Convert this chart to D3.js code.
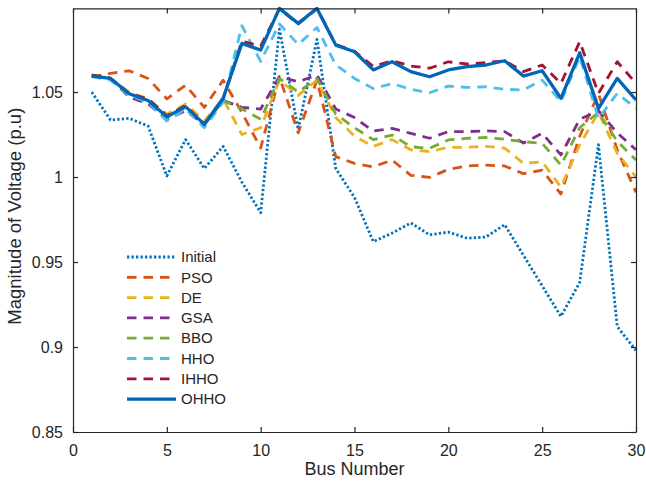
<!DOCTYPE html>
<html>
<head>
<meta charset="utf-8">
<script src="https://cdn.jsdelivr.net/npm/d3@7"></script>
<style>
  html, body { margin: 0; padding: 0; background: #fff; }
  svg { display: block; font-family: "Liberation Sans", Arial, sans-serif; }
</style>
</head>
<body>
<svg id="chart" width="646" height="485"></svg>
<script>
// Bus voltage magnitudes (p.u) for the 30-bus system
const buses = d3.range(1, 31);

const initialV = [1.050, 1.0335, 1.0345, 1.030, 1.0006, 1.022, 1.005, 1.018, 0.997, 0.979,
                  1.087, 1.028, 1.081, 1.005, 0.988, 0.962, 0.967, 0.973, 0.966, 0.9676,
                  0.964, 0.9647, 0.972, 0.954, 0.936, 0.918, 0.938, 1.019, 0.912, 0.898];
const psoV     = [1.059, 1.061, 1.0625, 1.058, 1.046, 1.054, 1.041, 1.057, 1.038, 1.017,
                  1.059, 1.026, 1.057, 1.012, 1.008, 1.006, 1.010, 1.001, 0.9998, 1.0045,
                  1.0065, 1.007, 1.0065, 1.002, 1.004, 0.990, 1.024, 1.049, 1.016, 0.991];
const deV      = [1.060, 1.058, 1.050, 1.046, 1.037, 1.043, 1.033, 1.046, 1.025, 1.029,
                  1.057, 1.048, 1.057, 1.035, 1.024, 1.018, 1.022, 1.016, 1.015, 1.0175,
                  1.0175, 1.018, 1.017, 1.008, 1.009, 0.994, 1.019, 1.038, 1.014, 1.000];
const gsaV     = [1.060, 1.058, 1.047, 1.043, 1.034, 1.039, 1.031, 1.045, 1.041, 1.040,
                  1.059, 1.056, 1.060, 1.040, 1.035, 1.027, 1.0286, 1.0257, 1.0228, 1.0267,
                  1.0267, 1.0272, 1.0267, 1.020, 1.0257, 1.013, 1.034, 1.039, 1.026, 1.016];
const bboV     = [1.060, 1.058, 1.049, 1.045, 1.035, 1.041, 1.031, 1.045, 1.040, 1.034,
                  1.058, 1.050, 1.058, 1.037, 1.029, 1.022, 1.0247, 1.0178, 1.0169, 1.0218,
                  1.0228, 1.0233, 1.0222, 1.0208, 1.0198, 1.007, 1.029, 1.038, 1.021, 1.010];
const hhoV     = [1.059, 1.057, 1.048, 1.044, 1.033, 1.040, 1.029, 1.044, 1.089, 1.068,
                  1.090, 1.078, 1.088, 1.066, 1.058, 1.052, 1.055, 1.0516, 1.0496, 1.0535,
                  1.0527, 1.0531, 1.0516, 1.0512, 1.057, 1.0443, 1.0708, 1.0345, 1.0492, 1.0404];
const ihhoV    = [1.060, 1.058, 1.049, 1.046, 1.036, 1.042, 1.031, 1.046, 1.080, 1.077,
                  1.099, 1.090, 1.099, 1.078, 1.074, 1.065, 1.0684, 1.0653, 1.064, 1.0678,
                  1.0665, 1.0673, 1.0684, 1.062, 1.0659, 1.0551, 1.0796, 1.0492, 1.0678, 1.0551];
const ohhoV    = [1.0594, 1.058, 1.049, 1.045, 1.0355, 1.0414, 1.031, 1.0463, 1.0786, 1.0747,
                  1.0992, 1.0904, 1.0992, 1.0776, 1.0737, 1.063, 1.0678, 1.062, 1.059, 1.063,
                  1.0649, 1.0659, 1.0684, 1.0594, 1.0625, 1.0463, 1.0731, 1.0404, 1.058, 1.0453];

const seriesNames = ["Initial", "PSO", "DE", "GSA", "BBO", "HHO", "IHHO", "OHHO"];
const seriesData  = [initialV, psoV, deV, gsaV, bboV, hhoV, ihhoV, ohhoV];

const xTicks = [0, 5, 10, 15, 20, 25, 30];
const yTicks = [0.85, 0.9, 0.95, 1, 1.05];

// Line styling per series
const styles = {
  Initial: { color: "#0072BD", width: 2.8, dash: "2.3,2.2" },
  PSO:     { color: "#D95319", width: 2.8, dash: "9.5,7" },
  DE:      { color: "#EDB120", width: 2.8, dash: "9.5,7" },
  GSA:     { color: "#7E2F8E", width: 2.8, dash: "9.5,7" },
  BBO:     { color: "#77AC30", width: 2.8, dash: "9.5,7" },
  HHO:     { color: "#4DBEEE", width: 2.8, dash: "9.5,7" },
  IHHO:    { color: "#A2142F", width: 2.8, dash: "9.5,7" },
  OHHO:    { color: "#0066B8", width: 3.3, dash: null }
};

const svg = d3.select("#chart");
const W = 646, H = 485;
const margin = { left: 73, right: 10, top: 8.4, bottom: 53 };
const axisColor = "#262626";

const x = d3.scaleLinear().domain([0, 30]).range([margin.left, W - margin.right]);
const y = d3.scaleLinear().domain([0.85, 1.0992]).range([H - margin.bottom, margin.top]);

svg.append("defs").append("clipPath").attr("id", "plotClip")
  .append("rect")
  .attr("x", x(0)).attr("y", y(1.0992) - 2)
  .attr("width", x(30) - x(0)).attr("height", y(0.85) - y(1.0992) + 2);

// Series lines
const line = d3.line().x((d, i) => x(buses[i])).y(d => y(d));
const lines = svg.append("g").attr("clip-path", "url(#plotClip)");
seriesNames.forEach((name, k) => {
  const s = styles[name];
  lines.append("path")
    .datum(seriesData[k])
    .attr("d", line)
    .attr("fill", "none")
    .attr("stroke", s.color)
    .attr("stroke-width", s.width)
    .attr("stroke-dasharray", s.dash)
    .attr("stroke-linejoin", "round");
});

// Axes with inward ticks on all four sides
const tickLen = 5;
const fmtY = d => (d === 1 ? "1" : d3.format("")(d));
svg.append("g")
  .attr("transform", `translate(0,${y(0.85)})`)
  .call(d3.axisBottom(x).tickValues(xTicks).tickSize(-tickLen).tickPadding(10).tickSizeOuter(0))
  .call(g => g.selectAll("text").attr("font-size", 16).attr("fill", axisColor).attr("dy", "0.9em"));
svg.append("g")
  .attr("transform", `translate(0,${y(1.0992)})`)
  .call(d3.axisTop(x).tickValues(xTicks).tickSize(-tickLen).tickFormat("").tickSizeOuter(0));
svg.append("g")
  .attr("transform", `translate(${x(0)},0)`)
  .call(d3.axisLeft(y).tickValues(yTicks).tickSize(-tickLen).tickPadding(10).tickFormat(fmtY).tickSizeOuter(0))
  .call(g => g.selectAll("text").attr("font-size", 16).attr("fill", axisColor));
svg.append("g")
  .attr("transform", `translate(${x(30)},0)`)
  .call(d3.axisRight(y).tickValues(yTicks).tickSize(-tickLen).tickFormat("").tickSizeOuter(0));
svg.selectAll(".domain, .tick line").attr("stroke", axisColor).attr("stroke-width", 1.2);

// Axis labels
svg.append("text")
  .attr("x", (x(0) + x(30)) / 2).attr("y", 475)
  .attr("text-anchor", "middle").attr("font-size", 18).attr("fill", axisColor)
  .text("Bus Number");
svg.append("text")
  .attr("transform", `translate(21,${(y(0.85) + y(1.0992)) / 2 - 4}) rotate(-90)`)
  .attr("text-anchor", "middle").attr("font-size", 18.5).attr("fill", axisColor)
  .text("Magnitude of Voltage (p.u)");

// Legend
const legend = svg.append("g");
seriesNames.forEach((name, i) => {
  const s = styles[name];
  const ly = 257 + i * 20.3;
  legend.append("line")
    .attr("x1", 127).attr("x2", 176).attr("y1", ly).attr("y2", ly)
    .attr("stroke", s.color).attr("stroke-width", s.width)
    .attr("stroke-dasharray", s.dash);
  legend.append("text")
    .attr("x", 181).attr("y", ly).attr("dy", "0.35em")
    .attr("font-size", 15).attr("fill", axisColor)
    .text(name);
});
</script>
</body>
</html>
